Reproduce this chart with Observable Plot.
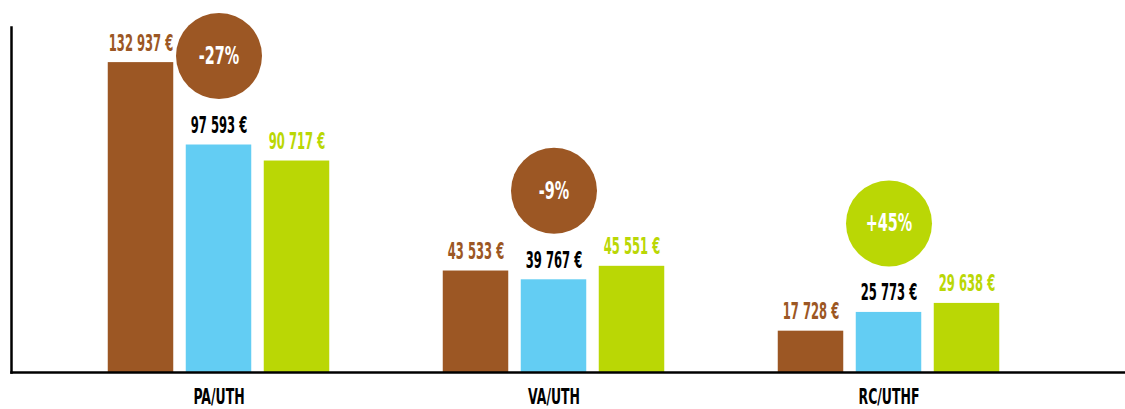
<!DOCTYPE html>
<html><head><meta charset="utf-8">
<script src="https://cdn.jsdelivr.net/npm/d3@7"></script>
<script src="https://cdn.jsdelivr.net/npm/@observablehq/plot@0.6"></script>
<style>
body{margin:0;background:#fff}
#chart svg{display:block}
</style>
</head><body><div id="chart"></div>
<script>
// ---- data ----
const groups = ["PA/UTH", "VA/UTH", "RC/UTHF"];
const seriesNames = ["Série 1", "Série 2", "Série 3"];
const valuesS1 = [132937, 43533, 17728];
const valuesS2 = [97593, 39767, 25773];
const valuesS3 = [90717, 45551, 29638];
const changeLabels = ["-27%", "-9%", "+45%"];
const seriesColors = ["#9C5724", "#63CDF3", "#BAD705"];
const labelColors = ["#9C5724", "#000000", "#BAD705"];

const allValues = [valuesS1, valuesS2, valuesS3];
const rows = groups.flatMap((g, i) => seriesNames.map((s, j) => ({group: g, series: s, si: j, value: allValues[j][i]})));
const circles = groups.map((g, i) => ({group: g, anchor: valuesS2[i], label: changeLabels[i], up: changeLabels[i].startsWith("+")}));

const fmt = v => d3.format(",")(v).replace(/,/g, " ") + " €";
const FONT = "'DejaVu Sans Condensed', 'DejaVu Sans', sans-serif";
const STEP = 78, INSET = 134.75;

const marks = [];
seriesNames.forEach((s, j) => {
  const d = rows.filter(r => r.si === j);
  marks.push(Plot.barY(d, {x: "group", y: "value", fill: seriesColors[j], dx: (j - 1) * STEP, insetLeft: INSET, insetRight: INSET}));
  marks.push(Plot.text(d, {x: "group", y: "value", text: r => fmt(r.value), dx: (j - 1) * STEP, dy: -12, lineAnchor: "bottom",
    fill: labelColors[j], fontSize: 23, fontWeight: "bold", fontFamily: FONT}));
});
marks.push(Plot.dot(circles, {x: "group", y: "anchor", r: 43, fill: d => d.up ? seriesColors[2] : seriesColors[0], stroke: null, dy: -89}));
marks.push(Plot.text(circles, {x: "group", y: "anchor", text: "label", dy: -89, fill: "white", fontSize: 25, fontWeight: "bold", fontFamily: FONT}));
marks.push(Plot.frame({anchor: "left", stroke: "#000", strokeWidth: 2.5}));
marks.push(Plot.frame({anchor: "bottom", stroke: "#000", strokeWidth: 2.5}));

const chart = Plot.plot({
  width: 1125, height: 409,
  marginTop: 27, marginBottom: 37, marginLeft: 11, marginRight: 0,
  style: {fontFamily: FONT, fontSize: "22px", fontWeight: "bold", color: "#000", background: "#fff"},
  x: {domain: groups, paddingInner: 0, paddingOuter: 0.16, align: 0.365, tickSize: 0, tickPadding: 16, label: null},
  y: {domain: [0, 148000], axis: null},
  color: {type: "identity"},
  marks
});
document.getElementById("chart").append(chart);

// condense the glyphs horizontally to mimic the narrow display face of the original
function condense(sel, f) {
  chart.querySelectorAll(sel).forEach(t => {
    const x = parseFloat(t.getAttribute("x")) || 0;
    t.removeAttribute("x");
    const tr = t.getAttribute("transform") || "";
    t.setAttribute("transform", `${tr} translate(${x},0) scale(${f},1)`);
  });
}
condense('g[aria-label="text"]:not([fill="white"]) text', 0.56);
condense('g[aria-label="text"][fill="white"] text', 0.64);
condense('g[aria-label="x-axis tick label"] text', 0.63);
</script>
</body></html>
